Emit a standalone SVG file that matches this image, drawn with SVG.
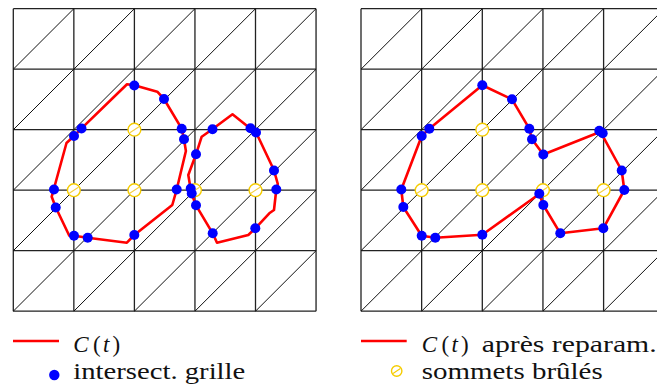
<svg xmlns="http://www.w3.org/2000/svg" xmlns:xlink="http://www.w3.org/1999/xlink" width="657" height="387" viewBox="0 0 657 387">
<style>
.grid{fill:none;stroke:#222;stroke-width:1.3}
.diag{fill:none;stroke:#111;stroke-width:1}
.curve{fill:none;stroke:#ff0000;stroke-width:2.6;stroke-linejoin:round}
.dot{fill:#0000ff}
.burnc{fill:#fff;stroke:#f5cc00;stroke-width:1.4}
.burnl{stroke:#f5d040;stroke-width:1.1}
.lbl{font-family:"Liberation Serif","Times New Roman",serif;font-size:23px;fill:#111}
.it{font-style:italic}
</style>
<defs>
<path id="drowL" d="M0 60.5 l60.55 -60.5 m0 60.5 l60.55 -60.5 m0 60.5 l60.55 -60.5 m0 60.5 l60.55 -60.5 m0 60.5 l60.55 -60.5"/>
<path id="drowR" d="M0 60.5 l60.65 -60.5 m0 60.5 l60.65 -60.5 m0 60.5 l60.65 -60.5 m0 60.5 l60.65 -60.5 m0 60.5 l60.65 -60.5 m0 60.5 l60.65 -60.5"/>
<g id="burn"><circle r="6.4" class="burnc"/><line x1="-4.6" y1="3" x2="4.6" y2="-3" class="burnl"/></g>
</defs>

<g id="grid-left">
<path class="grid" d="M13.3 8.7V311.2M73.85 8.7V311.2M134.4 8.7V311.2M194.95 8.7V311.2M255.5 8.7V311.2M316.05 8.7V311.2M13.3 8.7H316.05M13.3 69.2H316.05M13.3 129.7H316.05M13.3 190.2H316.05M13.3 250.7H316.05M13.3 311.2H316.05"/>
<g class="diag">
<use xlink:href="#drowL" x="13.3" y="8.7"/>
<use xlink:href="#drowL" x="13.3" y="69.2"/>
<use xlink:href="#drowL" x="13.3" y="129.7"/>
<use xlink:href="#drowL" x="13.3" y="190.2"/>
<use xlink:href="#drowL" x="13.3" y="250.7"/>
</g>
</g>

<g id="grid-right">
<path class="grid" d="M361 8.7V311.2M421.65 8.7V311.2M482.3 8.7V311.2M542.95 8.7V311.2M603.6 8.7V311.2M361 8.7H665M361 69.2H665M361 129.7H665M361 190.2H665M361 250.7H665M361 311.2H665"/>
<g class="diag">
<use xlink:href="#drowR" x="361" y="8.7"/>
<use xlink:href="#drowR" x="361" y="69.2"/>
<use xlink:href="#drowR" x="361" y="129.7"/>
<use xlink:href="#drowR" x="361" y="190.2"/>
<use xlink:href="#drowR" x="361" y="250.7"/>
</g>
</g>

<g id="burned-left">
<use xlink:href="#burn" x="134.4" y="129.7"/>
<use xlink:href="#burn" x="73.85" y="190.2"/>
<use xlink:href="#burn" x="134.4" y="190.2"/>
<use xlink:href="#burn" x="194.95" y="190.2"/>
<use xlink:href="#burn" x="255.5" y="190.2"/>
</g>
<g id="burned-right">
<use xlink:href="#burn" x="482.3" y="129.7"/>
<use xlink:href="#burn" x="421.65" y="190.2"/>
<use xlink:href="#burn" x="482.3" y="190.2"/>
<use xlink:href="#burn" x="542.95" y="190.2"/>
<use xlink:href="#burn" x="603.6" y="190.2"/>
</g>

<g id="curves">
<path class="curve" d="M127 84.2L134.3 85.3L157.3 91.7L164 99L181.7 128.7L184 139.3L185.9 151L176.7 189.5L172.3 205L134.3 235L126.9 242.7L87.7 237.7L74 235.7L69.3 235.8L55.7 207.3L51.7 196.7L53.7 189.5L66.5 143L74 136L81.3 128.7Z"/>
<path class="curve" d="M232.5 114.3L250 128.3L256 132.3L274 170.3L277.8 184L276.3 189.5L274 210L269.3 213.3L255.3 228.3L248.3 235L217 242.7L212.7 233.3L196 205.3L191.7 194L190.7 189.3L188.3 175L196 154.3L201.7 136.7L212.3 129.3Z"/>
<path class="curve" d="M482.3 85.3L512 99.3L529.3 128.7L532 139.3L543.3 154.5L600.5 131.8L621.7 170.5L624.3 190L603.3 228.3L560.3 233.3L543.3 205L539.3 194L482.3 234.7L435.3 237.7L421.7 235.7L403.3 207L401.3 189.5L421.7 136L429.3 128.7Z"/>
</g>

<g id="dots-left" class="dot">
<circle cx="134.3" cy="85.5" r="5"/><circle cx="164" cy="99" r="5"/>
<circle cx="81.5" cy="128.5" r="5"/><circle cx="74" cy="136" r="5"/>
<circle cx="181.7" cy="128.7" r="5"/><circle cx="184" cy="139.3" r="5"/>
<circle cx="54" cy="189.5" r="5"/><circle cx="55.7" cy="207.5" r="5"/>
<circle cx="74" cy="235.7" r="5"/><circle cx="87.7" cy="237.7" r="5"/>
<circle cx="134.3" cy="235" r="5"/><circle cx="176.7" cy="189.5" r="5"/>
<circle cx="212.5" cy="129.3" r="5"/><circle cx="250.5" cy="128.3" r="5"/>
<circle cx="256" cy="132.5" r="5"/><circle cx="196" cy="154.3" r="5"/>
<circle cx="274" cy="170.5" r="5"/><circle cx="276.3" cy="189.5" r="5"/>
<circle cx="190.7" cy="188.5" r="5"/><circle cx="191.7" cy="193.5" r="5"/>
<circle cx="196" cy="205.3" r="5"/><circle cx="212.7" cy="233.3" r="5"/>
<circle cx="255.3" cy="228.3" r="5"/>
</g>
<g id="dots-right" class="dot">
<circle cx="482.3" cy="85.3" r="5"/><circle cx="512" cy="99.3" r="5"/>
<circle cx="529.3" cy="128.7" r="5"/><circle cx="532" cy="139.3" r="5"/>
<circle cx="543.3" cy="154.5" r="5"/><circle cx="429.3" cy="128.7" r="5"/>
<circle cx="421.7" cy="136" r="5"/><circle cx="401.3" cy="189.5" r="5"/>
<circle cx="403.3" cy="207" r="5"/><circle cx="421.7" cy="235.7" r="5"/>
<circle cx="435.3" cy="237.7" r="5"/><circle cx="482.3" cy="234.7" r="5"/>
<circle cx="539.3" cy="193.8" r="5"/><circle cx="543.3" cy="205" r="5"/>
<circle cx="560.3" cy="233.3" r="5"/><circle cx="603.3" cy="228.3" r="5"/>
<circle cx="624.3" cy="190" r="5"/><circle cx="621.7" cy="170.5" r="5"/>
<circle cx="599.3" cy="130.7" r="5"/><circle cx="602.7" cy="133.3" r="5"/>
</g>

<g id="legend-left">
<line x1="13" y1="341" x2="59" y2="341" stroke="#ff0000" stroke-width="2.6"/>
<text class="lbl it" x="73.3" y="351.5">C</text>
<text class="lbl" x="93" y="351.5">(</text>
<text class="lbl it" x="103" y="351.5">t</text>
<text class="lbl" x="112.5" y="351.5">)</text>
<circle class="dot" cx="54.3" cy="375" r="5.2"/>
<text class="lbl" x="73.3" y="379" textLength="172" lengthAdjust="spacingAndGlyphs">intersect. grille</text>
</g>
<g id="legend-right">
<line x1="361" y1="341" x2="406.7" y2="341" stroke="#ff0000" stroke-width="2.6"/>
<text class="lbl it" x="421.7" y="351.5">C</text>
<text class="lbl" x="441.4" y="351.5">(</text>
<text class="lbl it" x="451.4" y="351.5">t</text>
<text class="lbl" x="460.9" y="351.5">)</text>
<text class="lbl" x="481.7" y="351.5" textLength="175" lengthAdjust="spacingAndGlyphs">après reparam.</text>
<g transform="translate(396.7 371)"><circle r="5.2" class="burnc"/><line x1="-3.7" y1="2.5" x2="3.7" y2="-2.5" stroke="#f5cc00" stroke-width="1.1"/></g>
<text class="lbl" x="421.7" y="379" textLength="181" lengthAdjust="spacingAndGlyphs">sommets brûlés</text>
</g>
</svg>
